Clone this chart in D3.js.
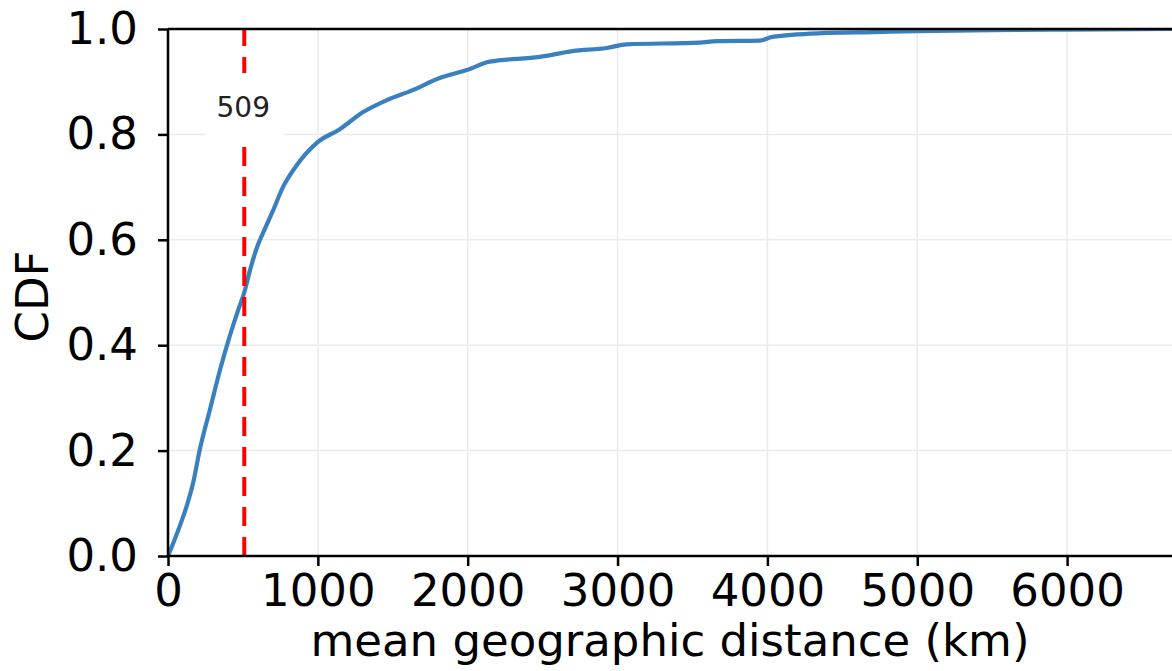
<!doctype html>
<html>
<head>
  <meta charset="utf-8">
  <title>CDF of mean geographic distance</title>
  <style>
  body {
    margin: 0;
    background: #fff;
  }
  #vis text {
    font-family: "DejaVu Sans", sans-serif;
    fill: #000;
  }
  </style>
</head>
<body>
  <div id="vis"></div>

  <script src="https://d3js.org/d3.v7.min.js"></script>
  <script>
  // values
  var distanceKm = [0, 40, 80, 125, 167, 213, 280, 347, 413, 470, 509, 547, 593, 650, 700, 767, 860, 993,
    1147, 1300, 1460, 1633, 1813, 1993, 2147, 2480, 2700, 2927, 3060, 3547, 3660, 3947, 4033,
    4367, 4700, 5000, 5500, 6000, 6700];
  var cdfValues = [0, 0.028, 0.058, 0.095, 0.138, 0.203, 0.278, 0.353, 0.418, 0.468, 0.5, 0.542, 0.585,
    0.623, 0.655, 0.7, 0.742, 0.784, 0.81, 0.842, 0.865, 0.884, 0.907, 0.922, 0.938, 0.947, 0.958, 0.964,
    0.971, 0.974, 0.977, 0.978, 0.985, 0.992, 0.994, 0.996, 0.998, 0.999, 1.0];
  var xTicks = [0, 1000, 2000, 3000, 4000, 5000, 6000];
  var yTicks = [0, 0.2, 0.4, 0.6, 0.8, 1.0];
  var median = 509;

  var width = 1172;
  var height = 671;
  var plot = { left: 168, right: 1172, top: 29, bottom: 556 };

  var svg = d3.select('#vis')
    .append('svg')
    .attr('width', width)
    .attr('height', height);

  var x = d3.scaleLinear().domain([0, 6700]).range([plot.left, plot.right]);
  var y = d3.scaleLinear().domain([0, 1]).range([plot.bottom, plot.top]);

  var data = distanceKm.map(function(d, i){ return { km: d, p: cdfValues[i] }; });

  svg.append('clipPath').attr('id', 'plot-clip')
    .append('rect')
      .attr('x', plot.left).attr('y', plot.top)
      .attr('width', plot.right - plot.left).attr('height', plot.bottom - plot.top);

  // grid
  svg.append('g').selectAll('line').data(xTicks.slice(1))
    .enter().append('line')
      .attr('x1', function(d){ return x(d); })
      .attr('x2', function(d){ return x(d); })
      .attr('y1', plot.top).attr('y2', plot.bottom)
      .attr('stroke', '#ebebeb')
      .attr('stroke-width', 1.5);
  svg.append('g').selectAll('line').data(yTicks.slice(1, -1))
    .enter().append('line')
      .attr('x1', plot.left).attr('x2', plot.right)
      .attr('y1', function(d){ return y(d); })
      .attr('y2', function(d){ return y(d); })
      .attr('stroke', '#ebebeb')
      .attr('stroke-width', 1.5);

  // cdf curve
  var line = d3.line()
    .x(function(d){ return x(d.km); })
    .y(function(d){ return y(d.p); })
    .curve(d3.curveMonotoneX);

  svg.append('path')
    .datum(data)
    .attr('clip-path', 'url(#plot-clip)')
    .attr('d', line)
    .attr('fill', 'none')
    .attr('stroke', '#3a80be')
    .attr('stroke-width', 4.2)
    .attr('stroke-linejoin', 'round');

  // median marker, drawn bottom-up like axvline
  svg.append('line')
    .attr('x1', x(median)).attr('x2', x(median))
    .attr('y1', y(0)).attr('y2', y(1))
    .attr('stroke', '#ff0000')
    .attr('stroke-width', 4)
    .attr('stroke-dasharray', '19,11');

  svg.append('rect')
    .attr('x', x(median) - 39)
    .attr('y', 73)
    .attr('width', 78)
    .attr('height', 69)
    .attr('fill', '#fff');

  svg.append('text')
    .attr('x', x(median) - 1)
    .attr('y', 117)
    .attr('text-anchor', 'middle')
    .style('font-size', '28px')
    .style('fill', '#222')
    .text(median);

  // spines
  svg.append('line')
    .attr('x1', plot.left).attr('x2', plot.right)
    .attr('y1', plot.top).attr('y2', plot.top)
    .attr('stroke', '#000').attr('stroke-width', 2.5);
  svg.append('line')
    .attr('x1', plot.left).attr('x2', plot.right)
    .attr('y1', plot.bottom).attr('y2', plot.bottom)
    .attr('stroke', '#000').attr('stroke-width', 2.5);
  svg.append('line')
    .attr('x1', plot.left).attr('x2', plot.left)
    .attr('y1', plot.top).attr('y2', plot.bottom)
    .attr('stroke', '#000').attr('stroke-width', 2.5);

  // axes
  var xAxis = d3.axisBottom(x).tickValues(xTicks).tickSize(10).tickPadding(8)
    .tickFormat(d3.format('d'));
  var yAxis = d3.axisLeft(y).tickValues(yTicks).tickSize(10).tickPadding(20)
    .tickFormat(d3.format('.1f'));

  var gx = svg.append('g').attr('transform', 'translate(0,' + plot.bottom + ')').call(xAxis);
  var gy = svg.append('g').attr('transform', 'translate(' + plot.left + ',0)').call(yAxis);

  [gx, gy].forEach(function(g){
    g.select('.domain').remove();
    g.selectAll('.tick line').attr('stroke', '#000').attr('stroke-width', 2.5);
    g.selectAll('.tick text').style('font-size', '45px');
  });
  gx.selectAll('.tick text').attr('dy', '0.71em');

  // labels
  svg.append('text')
    .attr('x', (plot.left + plot.right) / 2)
    .attr('y', 656)
    .attr('text-anchor', 'middle')
    .style('font-size', '45px')
    .text('mean geographic distance (km)');

  svg.append('text')
    .attr('transform', 'translate(48,' + ((plot.top + plot.bottom) / 2 + 4) + ') rotate(-90)')
    .attr('text-anchor', 'middle')
    .style('font-size', '45px')
    .text('CDF');
  </script>
</body>
</html>
